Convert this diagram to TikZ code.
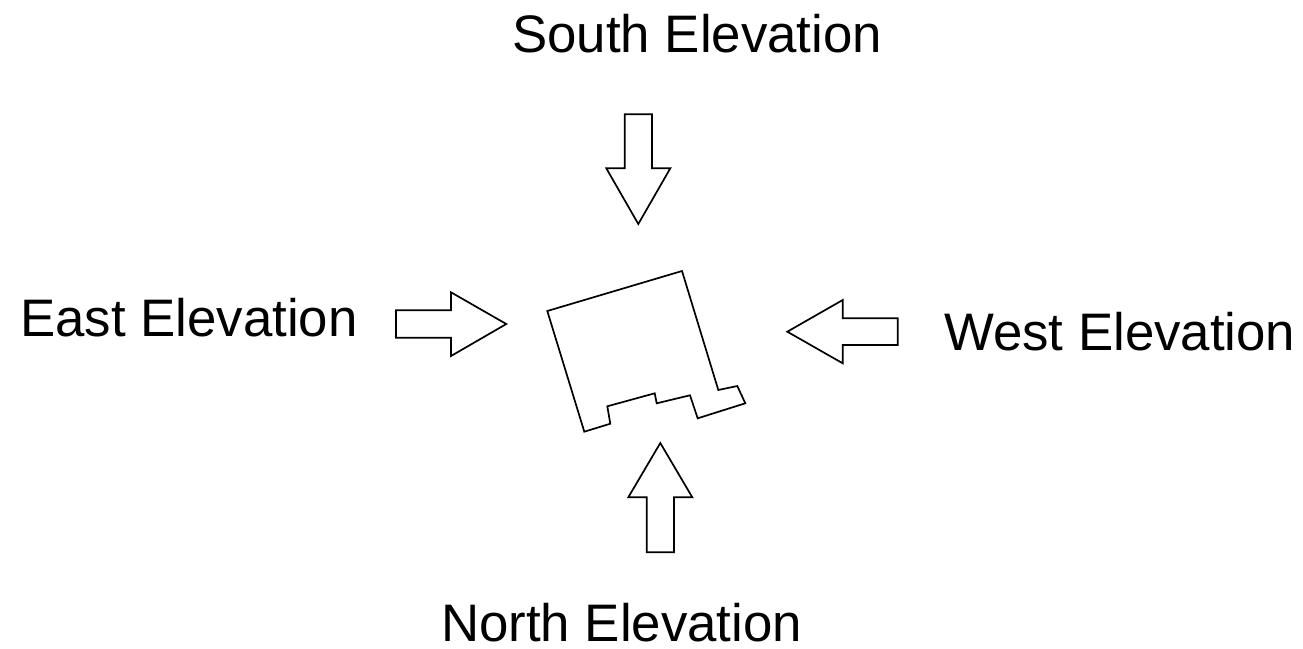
\documentclass[tikz,border=0pt]{standalone}
\usepackage{fontspec}
\setmainfont{Liberation Sans}
\tikzset{
  outline/.style={draw=black,line width=1.7pt,line join=miter,fill=white},
  elevlabel/.style={anchor=base west,inner sep=0pt,font=\fontsize{52.8pt}{60pt}\selectfont,text=black}
}
\begin{document}
\begin{tikzpicture}[x=1pt,y=-1pt]
\useasboundingbox (0,0) rectangle (1303,648);
\fill[white] (0,0) rectangle (1303,648);
% building
\draw[outline] (547.3,311) -- (682,271) -- (718.3,390) -- (737.3,386) -- (745.3,403.3) -- (697.7,418.3) -- (690,395.3) -- (656.7,403.3) -- (654.7,393.3) -- (607.3,406.3) -- (610.3,423.7) -- (584.3,431.7) -- cycle;
% arrows
\draw[outline] (396,310.3) -- (451,310.3) -- (451,292.3) -- (506.3,324) -- (451,356) -- (451,337.7) -- (396,337.7) -- cycle;
\draw[outline] (787.3,331.7) -- (842.7,300) -- (842.7,318.3) -- (897.7,318.3) -- (897.7,345) -- (842.7,345) -- (842.7,363.3) -- cycle;
\draw[outline] (624.7,114.3) -- (652,114.3) -- (652,168.3) -- (670.3,168.3) -- (638.3,224) -- (606.3,168.3) -- (624.7,168.3) -- cycle;
\draw[outline] (660.3,443) -- (692.3,497.3) -- (674,497.3) -- (674,552.3) -- (646.7,552.3) -- (646.7,497.3) -- (628.3,497.3) -- cycle;
% labels
\node[elevlabel] (south) at (512,52) {South Elevation};
\node[elevlabel] (east) at (20,336) {East Elevation};
\node[elevlabel] (west) at (944,350) {West Elevation};
\node[elevlabel] (north) at (441,641) {North Elevation};
\end{tikzpicture}
\end{document}
